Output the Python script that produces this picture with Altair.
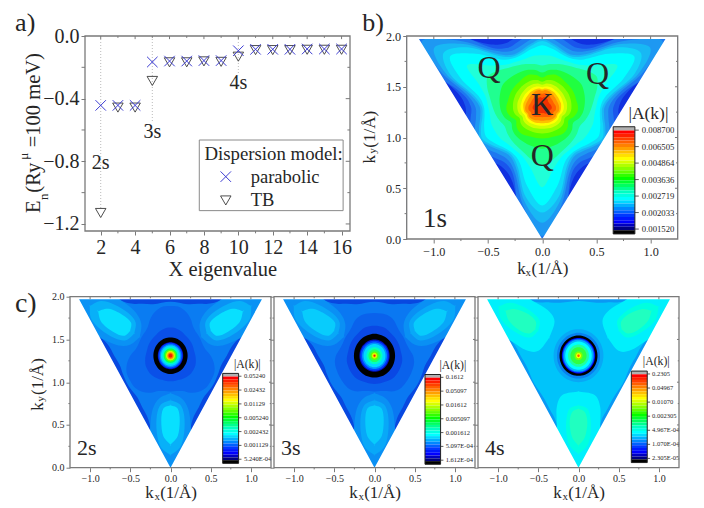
import altair as alt
import pandas as pd
import math

FONT = "Liberation Serif"
INK = "#262626"
FRAME = "#7a7a7a"

# ---------- panel a values ----------
X_EIG = [2, 3, 4, 5, 6, 7, 8, 9, 10, 11, 12, 13, 14, 15, 16]
E_PARABOLIC = [-.443, -.443, -.443, -.166, -.16, -.16, -.157, -.157, -.094, -.085, -.085, -.085, -.083, -.083, -.083]
E_TB = [-1.13, -.457, -.457, -.287, -.168, -.168, -.162, -.165, -.132, -.09, -.09, -.09, -.088, -.088, -.088]
GUIDE_X = [2, 5, 10]
GUIDE_Y2 = [-1.1, -.55, -.25]

# ---------- colour bar ----------
BAR_COLORS = ["#ff0000", "#ff2000", "#ff4000", "#ff6000", "#ff8000", "#ffa000", "#ffc000", "#ffe000", "#ffff00",
              "#d8ff00", "#b0ff00", "#88ff00", "#60ff00", "#30ff00", "#00ff00", "#00ff30", "#00ff60", "#00ff90",
              "#00ffc0", "#00ffe0", "#00ffff", "#00d8ff", "#00b0ff", "#0088ff", "#0060ff", "#0038ff", "#0018ff",
              "#0000ff", "#0000c0", "#000080"]
LABELS_B = ["0.008700", "0.006505", "0.004864", "0.003636", "0.002719", "0.002033", "0.001520"]
LABELS_C1 = ["0.05240", "0.02432", "0.01129", "0.005240", "0.002432", "0.001129", "5.240E-04"]
LABELS_C2 = ["0.1612", "0.05097", "0.01612", "0.005097", "0.001612", "5.097E-04", "1.612E-04"]
LABELS_C3 = ["0.2305", "0.04967", "0.01070", "0.002305", "4.967E-04", "1.070E-04", "2.305E-05"]

# ---------- contour tables: colour, radius from K at 0,10,...,60 degrees from the corner direction ----------
K_Y = 1.31
BIG = [3] * 7
STARS_B = [
    ("#1030e0", BIG),
    ("#1a55ec", [1.5, 1.1, .80, .71, .72, .8, .8]),
    ("#1e78f0", [1.5, 1.15, .76, .66, .67, .72, .8]),
    ("#1e98f2", [1.28, 1.0, .72, .62, .62, .66, .70]),
    ("#18b8f4", [1.15, .95, .68, .58, .58, .62, .66]),
    ("#10d8f8", [1.05, .9, .65, .56, .56, .6, .64]),
    ("#00ffff", [.98, .8, .6, .54, .54, .57, .60]),
    ("#20ffd8", [.8, .62, .53, .5, .49, .5, .5]),
    ("#20ff90", [.58, .54, .49, .46, .44, .42, .40]),
    ("#20ff40", [.42, .41, .40, .39, .38, .36, .33]),
    ("#50ff00", [.32, .32, .32, .33, .33, .31, .28]),
    ("#90ff00", [.27, .27, .27, .27, .27, .26, .24]),
    ("#d0ff00", [.225, .225, .23, .23, .23, .225, .21]),
    ("#ffff00", [.195, .195, .195, .2, .2, .195, .185]),
    ("#ffc000", [.17, .17, .175, .175, .175, .175, .165]),
    ("#ff9000", [.145, .145, .15, .155, .16, .16, .15]),
    ("#ff6000", [.11, .11, .115, .125, .13, .13, .12]),
    ("#f03000", [.07, .07, .08, .085, .09, .09, .08]),
]
LOBES_NONE = []
STARS_C1 = [("#0848e0", BIG), ("#0a7cf2", [1.5, 1.08, .80, .70, .64, .63, .63])]
LOBES_C1 = [
    ("#0a92f4", [.44, .50, .62, .8, 1.0, 1.4], [.0, .14, .22, .25, .25, .2]),
    ("#08b0f8", [.52, .57, .70, .9, 1.07, 1.16], [0, .12, .17, .17, .12, 0]),
    ("#08e0ff", [.58, .62, .76, .94, 1.04], [0, .09, .115, .09, 0]),
]
RINGS_C1 = [
    ("#0a68ee", [.42, .42, .44, .5, .55, .58, .58]), ("#0a50e8", [.3, .3, .3, .31, .32, .33, .33]),
    ("#000000", [.213] * 7), ("#0010c0", [.158] * 7), ("#0040ff", [.15] * 7), ("#0090ff", [.135] * 7),
    ("#00d8ff", [.12] * 7), ("#00ffc0", [.10] * 7), ("#00ff60", [.085] * 7), ("#60ff00", [.07] * 7),
    ("#d0ff00", [.055] * 7), ("#ffc000", [.045] * 7), ("#ff7000", [.035] * 7), ("#f02000", [.022] * 7),
]
STARS_C2 = [("#0848e0", BIG), ("#0a78f2", [1.5, 1.08, .80, .70, .64, .63, .63])]
LOBES_C2 = [
    ("#0a90f4", [.44, .50, .62, .8, 1.0, 1.4], [.0, .14, .22, .25, .25, .2]),
    ("#08a8f8", [.52, .57, .70, .9, 1.07, 1.16], [0, .12, .17, .17, .12, 0]),
    ("#08ccfc", [.58, .62, .76, .94, 1.04], [0, .09, .115, .09, 0]),
]
RINGS_C2 = [
    ("#0a62ec", [.42, .42, .44, .48, .5, .5, .5]), ("#0a48e4", [.33, .33, .33, .34, .35, .35, .35]),
    ("#000000", [.256] * 7), ("#0010c0", [.188] * 7), ("#0040ff", [.175] * 7), ("#0090ff", [.155] * 7),
    ("#00d8ff", [.136] * 7), ("#00ffc0", [.10] * 7), ("#20ff60", [.075] * 7), ("#60ff00", [.05] * 7),
    ("#d0ff00", [.033] * 7), ("#ffc000", [.02] * 7), ("#f02000", [.012] * 7),
]
STARS_C3 = [("#0a98f4", BIG), ("#00c4fa", [1.5, 1.1, .82, .72, .66, .64, .64])]
LOBES_C3 = [
    ("#00f0fc", [.42, .46, .6, .8, 1.0, 1.4], [0, .2, .27, .27, .27, .27]),
    ("#00ffe0", [.58, .62, .74, .9, 1.05, 1.15], [0, .11, .15, .15, .11, 0]),
    ("#20ffc0", [.62, .66, .78, .95, 1.05], [0, .08, .11, .08, 0]),
]
RINGS_C3 = [
    ("#08a8f6", [.31] * 7), ("#0880f0", [.268] * 7), ("#000000", [.236] * 7), ("#0000ff", [.207] * 7),
    ("#0060ff", [.197] * 7), ("#00b0ff", [.186] * 7), ("#00ffff", [.165] * 7), ("#20ffa0", [.13] * 7),
    ("#30ff40", [.10] * 7), ("#80ff00", [.05] * 7), ("#ffff00", [.03] * 7), ("#ff6000", [.015] * 7),
]

# ---------- annotation tables: x, y, text, size ----------
TEXT_A_C = [(-2.39, .083, "a)", 26), (2, -.81, "2s", 20), (5, -.61, "3s", 20), (10, -.30, "4s", 20),
            (9.1, -1.493, "X eigenvalue", 20.5)]
TEXT_A_L = [(8.03, -.753, "Dispersion model:", 18.8), (10.72, -.9, "parabolic", 18.5), (10.72, -1.05, "TB", 18.5)]
TEXT_A_R = [(-1.9, -1.13, "E", 20.5), (-1.28, -1.047, "n", 13), (-1.9, -1.0, "(Ry", 20.5),
            (-2.45, -.79, "\u03bc", 13), (-1.9, -.71, "=100 meV)", 20.5)]
TEXT_B_C = [(-.49, 1.68, "Q", 32), (.51, 1.63, "Q", 32), (0, .82, "Q", 32), (0, 1.31, "K", 31), (-.99, .2, "1s", 27),
            (-1.56, 2.128, "b)", 26)]


def rows_star(pid, color, radii, start):
    out = []
    for k in range(36):
        f = (k * 10) % 120
        f = 120 - f if f > 60 else f
        r = radii[f // 10]
        t = math.radians(k * 10)
        out.append(dict(id=start, i=k, x=r * math.sin(t), y=K_Y - r * math.cos(t), c=color))
    return out


def rows_lobe(color, rs, ws, start):
    out = []
    for rot in (0, 120, 240):
        t = math.radians(rot)
        pts = [(r, w) for r, w in zip(rs, ws)] + [(r, -w) for r, w in reversed(list(zip(rs, ws)))]
        for i, (r, w) in enumerate(pts):
            out.append(dict(id=start + rot / 1000, i=i,
                            x=r * math.sin(t) + w * math.cos(t),
                            y=K_Y - r * math.cos(t) + w * math.sin(t), c=color))
    return out


def contours(stars, lobes, rings):
    rows = []
    n = 0
    for c, r in stars:
        rows += rows_star(0, c, r, n)
        n += 1
    for c, rs, ws in lobes:
        rows += rows_lobe(c, rs, ws, n)
        n += 1
    for c, r in rings:
        rows += rows_star(0, c, r, n)
        n += 1
    return pd.DataFrame(rows)


def panel_scales(xd, yd, xaxis=None, yaxis=None):
    X = lambda f: alt.X(f, type="quantitative", scale=alt.Scale(domain=xd, nice=False, zero=False), axis=xaxis, title=None)
    Y = lambda f: alt.Y(f, type="quantitative", scale=alt.Scale(domain=yd, nice=False, zero=False), axis=yaxis, title=None)
    return X, Y


def make_axis(values, size, fmt, labels=True):
    return alt.Axis(values=values, grid=False, domain=False, tickSize=4, tickColor=FRAME, labels=labels, format=fmt,
                    labelFont=FONT, labelFontSize=size, labelColor=INK, labelPadding=2, labelOverlap=False,
                    labelFlush=False, title=None)


def frame_layers(xd, yd, major_x, minor_x, major_y, minor_y, ilen_x, ilen_y, olen_x, olen_y, X, Y):
    rules = []
    for v in major_x:
        rules.append(dict(x=v, x2=v, y=yd[1], y2=yd[1] - ilen_y))
    for v in minor_x:
        rules.append(dict(x=v, x2=v, y=yd[1], y2=yd[1] - ilen_y * .6))
        rules.append(dict(x=v, x2=v, y=yd[0], y2=yd[0] - olen_y))
    for v in major_y:
        rules.append(dict(x=xd[1], x2=xd[1] - ilen_x, y=v, y2=v))
    for v in minor_y:
        rules.append(dict(x=xd[1], x2=xd[1] - ilen_x * .6, y=v, y2=v))
        rules.append(dict(x=xd[0], x2=xd[0] - olen_x, y=v, y2=v))
    ticks = alt.Chart(pd.DataFrame(rules)).mark_rule(color=FRAME, strokeWidth=1).encode(
        x=X("x"), x2="x2:Q", y=Y("y"), y2="y2:Q")
    box = alt.Chart(pd.DataFrame([dict(x=xd[0], x2=xd[1], y=yd[0], y2=yd[1])])).mark_rect(
        fill="transparent", stroke=FRAME, strokeWidth=1.3).encode(x=X("x"), x2="x2:Q", y=Y("y"), y2="y2:Q")
    return [ticks, box]


def text_layer(rows, X, Y, align="center", angle=None, color=INK):
    df = pd.DataFrame(rows, columns=["x", "y", "t", "s"])
    kw = dict(font=FONT, align=align, baseline="middle", color=color)
    if angle is not None:
        kw["angle"] = angle
    return alt.Chart(df).mark_text(**kw).encode(x=X("x"), y=Y("y"), text="t:N", size=alt.Size("s:Q", scale=None))


def kx_label(X, Y, xs, y, dy, size):
    return text_layer([(xs[0], y, "k", size), (xs[1], y - dy, "x", size * .65), (xs[2], y, "(1/\u00c5)", size)], X, Y, "left")


def ky_label(X, Y, x, dx, ys, size):
    return text_layer([(x, ys[0], "k", size), (x + dx, ys[1], "y", size * .65), (x, ys[2], "(1/\u00c5)", size)], X, Y, "left", 270)


def heat_panel(xd, yd, w, h, stars, lobes, rings, bar, labels, lab_x, lab_size, title_xy, title_size, texts, tick_size,
               show_y, extra):
    xax = make_axis([-1.0, -.5, 0.0, .5, 1.0], tick_size, ".1f")
    yax = make_axis([0.0, .5, 1.0, 1.5, 2.0], tick_size, ".1f", labels=show_y)
    X, Y = panel_scales(xd, yd, xax, yax)
    layers = []
    df = contours(stars, lobes, rings)
    layers.append(alt.Chart(df).mark_line(filled=True, interpolate="cardinal-closed", clip=True, strokeWidth=0).encode(
        x=X("x"), y=Y("y"), color=alt.Color("c:N", scale=None), detail="id:N", order="i:Q"))
    mask_x = [xd[0], 0, -1.137, 1.137, 0, xd[1], xd[1], xd[0], xd[0]]
    mask_y = [0, 0, 1.97, 1.97, 0, 0, 2, 2, 0]
    mask = pd.DataFrame(dict(x=mask_x, y=mask_y, i=range(len(mask_x))))
    layers.append(alt.Chart(mask).mark_line(filled=True, color="white", strokeWidth=0, clip=True).encode(
        x=X("x"), y=Y("y"), order="i:Q"))
    # colour bar
    x0, x1, ytop, ybot = bar
    n = len(BAR_COLORS)
    cap = (ytop - ybot) * .035
    step = (ytop - ybot - 2 * cap) / n
    cells = [dict(x=x0, x2=x1, y=ytop, y2=ytop - cap, c="#b0b0b0")]
    for i, col in enumerate(BAR_COLORS):
        cells.append(dict(x=x0, x2=x1, y=ytop - cap - i * step, y2=ytop - cap - (i + 1) * step, c=col))
    cells.append(dict(x=x0, x2=x1, y=ybot + cap, y2=ybot, c="#000000"))
    layers.append(alt.Chart(pd.DataFrame(cells)).mark_rect(strokeWidth=0).encode(
        x=X("x"), x2="x2:Q", y=Y("y"), y2="y2:Q", color=alt.Color("c:N", scale=None)))
    layers.append(alt.Chart(pd.DataFrame([dict(x=x0, x2=x1, y=ytop, y2=ybot)])).mark_rect(
        fill="transparent", stroke="#222222", strokeWidth=1).encode(x=X("x"), x2="x2:Q", y=Y("y"), y2="y2:Q"))
    ty = [ytop - cap * .9 - i * (ytop - ybot - 2.2 * cap) / 6 for i in range(7)]
    tick_len = (x1 - x0) * .18
    layers.append(alt.Chart(pd.DataFrame(dict(x=[x1] * 7, x2=[x1 + tick_len] * 7, y=ty))).mark_rule(
        color="#333333", strokeWidth=.8).encode(x=X("x"), x2="x2:Q", y=Y("y")))
    layers.append(text_layer([(lab_x, v, t, lab_size) for v, t in zip(ty, labels)], X, Y, "left"))
    layers.append(text_layer([(title_xy[0], title_xy[1], "|A(k)|", title_size)], X, Y))
    layers.append(text_layer(texts, X, Y))
    layers += extra(X, Y)
    minor = [-1.25, -.75, -.25, .25, .75]
    layers += frame_layers(xd, yd, [-1.0, -.5, 0.0, .5, 1.0], minor[1:], [.5, 1.0, 1.5], [.25, .75, 1.25, 1.75],
                           .025, .03, .02, .02, X, Y)
    return alt.layer(*layers).properties(width=w, height=h)


# ---------- panel a ----------
xd_a, yd_a = [1.087, 16.49], [-1.245, 0.0]
Xa, Ya = panel_scales(xd_a, yd_a, make_axis(list(range(2, 17, 2)), 20, "d"), make_axis([0.0, -.4, -.8, -1.2], 20, ".1f"))
guides = alt.Chart(pd.DataFrame(dict(x=GUIDE_X, y=[0, 0, 0], y2=GUIDE_Y2))).mark_rule(
    color="#aaaaaa", strokeDash=[1, 2], strokeWidth=.8).encode(x=Xa("x"), y=Ya("y"), y2="y2:Q")
XMARK = "M-1,-1L1,1M-1,1L1,-1"
pts_tb = alt.Chart(pd.DataFrame(dict(x=X_EIG, y=E_TB))).mark_point(
    shape="triangle-down", size=110, stroke="#3a3a3a", strokeWidth=.9, fill="transparent", opacity=1).encode(x=Xa("x"), y=Ya("y"))
pts_par = alt.Chart(pd.DataFrame(dict(x=X_EIG, y=E_PARABOLIC))).mark_point(
    shape=XMARK, size=110, stroke="#3c3cd2", strokeWidth=1, opacity=1).encode(x=Xa("x"), y=Ya("y"))
leg_box = alt.Chart(pd.DataFrame([dict(x=7.73, x2=16.09, y=-.664, y2=-1.115)])).mark_rect(
    fill="white", stroke="#8a8a8a", strokeWidth=1).encode(x=Xa("x"), x2="x2:Q", y=Ya("y"), y2="y2:Q")
leg_x = alt.Chart(pd.DataFrame(dict(x=[9.27], y=[-.898]))).mark_point(
    shape=XMARK, size=110, stroke="#3c3cd2", strokeWidth=1, opacity=1).encode(x=Xa("x"), y=Ya("y"))
leg_t = alt.Chart(pd.DataFrame(dict(x=[9.27], y=[-1.05]))).mark_point(
    shape="triangle-down", size=110, stroke="#3a3a3a", strokeWidth=.9, fill="transparent", opacity=1).encode(x=Xa("x"), y=Ya("y"))
panel_a = alt.layer(
    guides, pts_tb, pts_par, leg_box, leg_x, leg_t,
    text_layer(TEXT_A_C, Xa, Ya), text_layer(TEXT_A_L, Xa, Ya, "left"), text_layer(TEXT_A_R, Xa, Ya, "left", 270),
    *frame_layers(xd_a, yd_a, list(range(2, 17, 2)), list(range(3, 17, 2)), [-.4, -.8, -1.2], [-.2, -.6, -1.0],
                  .25, .02, .2, .015, Xa, Ya),
).properties(width=265, height=195)

XD, YD = [-1.25, 1.25], [0.0, 2.0]


def extra_b(X, Y):
    return [kx_label(X, Y, (-.23, -.153, -.098), -.296, .035, 17), ky_label(X, Y, -1.587, .03, (.745, .84, .90), 17)]


def extra_c1(X, Y):
    return [kx_label(X, Y, (-.314, -.198, -.128), -.30, .045, 17), ky_label(X, Y, -1.65, .04, (.667, .77, .85), 17),
            text_layer([(-1.80, 1.915, "c)", 28)], X, Y)]


def extra_c(X, Y):
    return [kx_label(X, Y, (-.314, -.198, -.128), -.30, .045, 17)]


panel_b = heat_panel(XD, YD, 271, 203, STARS_B, LOBES_NONE, [], (.655, .855, 1.106, .05), LABELS_B, .919, 8.7,
                     (.98, 1.23), 17.5, TEXT_B_C, 12.2, True, extra_b)
panel_c1 = heat_panel(XD, YD, 201, 171, STARS_C1, LOBES_C1, RINGS_C1, (.649, .847, 1.103, .051), LABELS_C1, .915, 6.5,
                      (.955, 1.21), 11.7, [(-1.04, .23, "2s", 22)], 10, True, extra_c1)
panel_c2 = heat_panel(XD, YD, 201, 171, STARS_C2, LOBES_C2, RINGS_C2, (.628, .822, 1.09, .04), LABELS_C2, .885, 6.5,
                      (.975, 1.2), 11.7, [(-1.04, .23, "3s", 22)], 10, False, extra_c)
panel_c3 = heat_panel(XD, YD, 201, 171, STARS_C3, LOBES_C3, RINGS_C3, (.657, .855, 1.13, .06), LABELS_C3, .915, 6.5,
                      (.967, 1.25), 11.7, [(-1.04, .23, "4s", 22)], 10, False, extra_c)

blank = alt.Chart(pd.DataFrame(dict(v=[0]))).mark_point(opacity=0).encode(x=alt.value(0), y=alt.value(0)).properties(width=5, height=10)
left = alt.hconcat(blank, panel_a, spacing=10, bounds="flush")
top = alt.hconcat(left, panel_b, spacing=336.7, bounds="flush")
bottom = alt.hconcat(panel_c1, panel_c2, panel_c3, spacing=3, bounds="flush")
chart = alt.vconcat(top, bottom, spacing=260.7, bounds="flush").properties(
    padding=dict(left=6, top=2, right=0, bottom=0), background="white"
).configure_view(stroke=None)

chart.save("out.html", embed_options={"renderer": "svg", "actions": False})
